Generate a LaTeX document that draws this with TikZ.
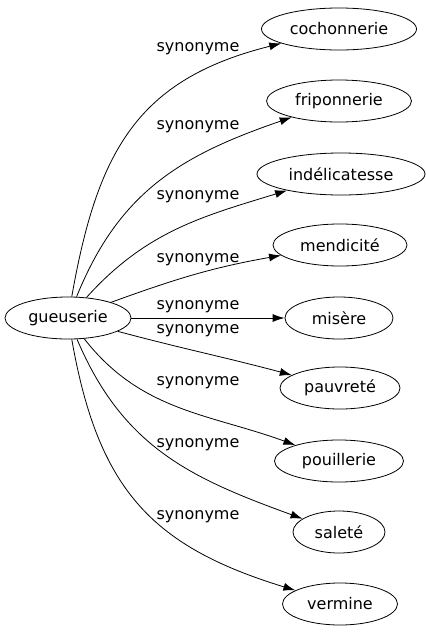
\documentclass[tikz,border=0pt]{standalone}
\usepackage{fontspec}
\setmainfont{DejaVu Sans}
\usetikzlibrary{arrows.meta,shapes.geometric}

\begin{document}
\begin{tikzpicture}[x=1pt,y=-1pt,font=\fontsize{16}{18}\selectfont,
		word/.style={draw,ellipse,inner sep=0pt,minimum height=42pt,line width=0.8pt},
		lbl/.style={inner sep=0pt},
		every edge/.style={draw,line width=0.8pt,-{Latex[length=12pt,width=8pt]}}]
		\useasboundingbox (0,0) rectangle (426,635);
		\node[word,minimum width=126pt] (g) at (68,318) {gueuserie};
		
		\node[word,minimum width=155pt] (w1) at (339,29) {cochonnerie};
		\node[word,minimum width=145pt] (w2) at (339,101) {friponnerie};
		\node[word,minimum width=168pt] (w3) at (341,174) {indélicatesse};
		\node[word,minimum width=134pt] (w4) at (340,245) {mendicité};
		\node[word,minimum width=108pt] (w5) at (339,318) {misère};
		\node[word,minimum width=120pt] (w6) at (340,388) {pauvreté};
		\node[word,minimum width=129pt] (w7) at (339,461) {pouillerie};
		\node[word,minimum width=92pt] (w8) at (339,532) {saleté};
		\node[word,minimum width=115pt] (w9) at (340,604) {vermine};
		
		\node[lbl] (l1) at (198,49) {synonyme};
		\node[lbl] (l2) at (198,127) {synonyme};
		\node[lbl] (l3) at (198,197) {synonyme};
		\node[lbl] (l4) at (198,260) {synonyme};
		\node[lbl] (l5) at (198,307) {synonyme};
		\node[lbl] (l6) at (198,331) {synonyme};
		\node[lbl] (l7) at (198,383) {synonyme};
		\node[lbl] (l8) at (198,445) {synonyme};
		\node[lbl] (l9) at (198,517) {synonyme};
		
		\draw (g) edge[out=80,in=194,looseness=1.15] (w1);
		\draw (g) edge[out=68,in=199,looseness=1.05] (w2);
		\draw (g) edge[out=48,in=197] (w3);
		\draw (g) edge[out=20,in=190] (w4);
		\draw (g) edge (w5);
		\draw (g) edge[out=-15,in=165] (w6);
		\draw (g) edge[out=-52,in=160] (w7);
		\draw (g) edge[out=-67,in=160,looseness=1.05] (w8);
		\draw (g) edge[out=-80,in=163,looseness=1.15] (w9);
	\end{tikzpicture}
\end{document}
